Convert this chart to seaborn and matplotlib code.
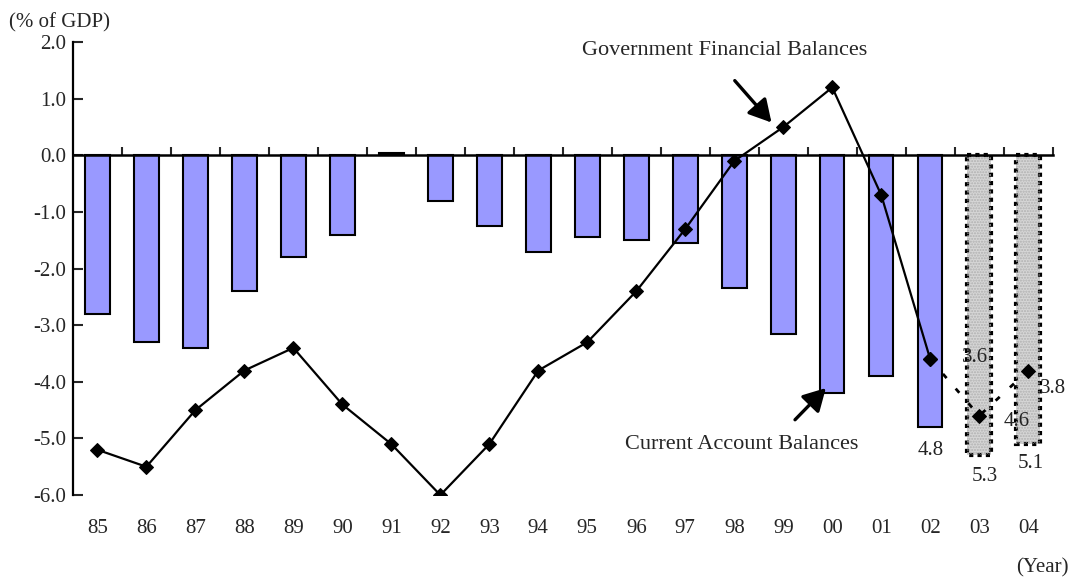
import numpy as np
import pandas as pd
import matplotlib
matplotlib.use("Agg")
import matplotlib.pyplot as plt
import seaborn as sns

# ----------------------------------------
# Datos (% del PIB)
years = ['85', '86', '87', '88', '89', '90', '91', '92', '93', '94',
         '95', '96', '97', '98', '99', '00', '01', '02', '03', '04']
current_account = [-2.8, -3.3, -3.4, -2.4, -1.8, -1.4, 0.05, -0.8, -1.25, -1.7,
                   -1.45, -1.5, -1.55, -2.35, -3.15, -4.2, -3.9, -4.8, -5.3, -5.1]
gov_balance = [-5.2, -5.5, -4.5, -3.8, -3.4, -4.4, -5.1, -6.0, -5.1, -3.8,
               -3.3, -2.4, -1.3, -0.1, 0.5, 1.2, -0.7, -3.6, -4.6, -3.8]
n_forecast = 2  # 03 y 04 son proyecciones

ca_labels = {'02': '4.8', '03': '5.3', '04': '5.1'}
gov_labels = {'02': '3.6', '03': '4.6', '04': '3.8'}

df = pd.DataFrame({'year': years, 'ca': current_account, 'gov': gov_balance})
df['pos'] = np.arange(len(df))

sns.set_theme(style='white')
plt.rcParams['font.family'] = ['Liberation Serif', 'DejaVu Serif']
FS = 15

fig = plt.figure(figsize=(10.72, 5.77), dpi=100)
ax = fig.add_axes([0.068, 0.142, 0.914, 0.785])

# ----------------------------------------
# Barras: balanza por cuenta corriente
sns.barplot(data=df, x='pos', y='ca', color='#9999ff', width=0.5,
            edgecolor='black', linewidth=1.5, saturation=1, ax=ax,
            native_scale=True, zorder=2)
for patch in ax.patches[-n_forecast:]:
    patch.set_facecolor('#d6d6d6')
    patch.set_edgecolor('black')
    patch.set_linestyle((0, (1, 1)))
    patch.set_linewidth(3.0)
    ax.add_patch(plt.Rectangle(patch.get_xy(), patch.get_width(), patch.get_height(),
                               facecolor='none', edgecolor='#b0b0b0', hatch='......',
                               linewidth=0, zorder=2.1))

# ----------------------------------------
# Línea: balance financiero del gobierno
solid = df.iloc[:len(df) - n_forecast]
dotted = df.iloc[len(df) - n_forecast - 1:]
sns.lineplot(data=solid, x='pos', y='gov', color='black', linewidth=1.6,
             marker='D', markersize=7, markeredgecolor='black', ax=ax, zorder=4)
sns.lineplot(data=dotted, x='pos', y='gov', color='black', linewidth=2.0,
             linestyle=(0, (2, 5)), marker='D', markersize=7,
             markeredgecolor='black', ax=ax, zorder=4)

# Etiquetas de valores (desplazamientos en puntos)
ca_offsets = {'02': (0, -17), '03': (4, -15), '04': (2, -14)}
for yr, txt in ca_labels.items():
    row = df[df['year'] == yr].iloc[0]
    ax.annotate(txt, (row['pos'], row['ca']), xytext=ca_offsets[yr],
                textcoords='offset points', ha='center', va='center',
                color='#222222', fontsize=FS)
gov_offsets = {'02': (32, 1), '03': (27, -4), '04': (18, -13)}
for yr, txt in gov_labels.items():
    row = df[df['year'] == yr].iloc[0]
    ax.annotate(txt, (row['pos'], row['gov']), xytext=gov_offsets[yr],
                textcoords='offset points', ha='center', va='center',
                color='#222222', fontsize=FS)

# Anotaciones con flecha
arrow = dict(arrowstyle='-|>,head_length=0.45,head_width=0.25', color='black',
             lw=2.4, mutation_scale=30, shrinkA=0, shrinkB=0)
ax.text(12.8, 1.85, 'Government Financial Balances', ha='center', va='center',
        fontsize=16)
ax.annotate('', xy=(13.76, 0.58), xytext=(13.01, 1.32), arrowprops=arrow)
ax.text(13.15, -5.11, 'Current Account Balances', ha='center', va='center',
        fontsize=16)
ax.annotate('', xy=(14.87, -4.11), xytext=(14.24, -4.67), arrowprops=arrow)

# ----------------------------------------
# Ejes
ax.set_xlim(-0.5, len(df) - 0.5)
ax.set_ylim(-6.0, 2.0)
ax.set_yticks(np.arange(-6, 2.1, 1.0))
ax.set_yticklabels([f'{v:.1f}' for v in np.arange(-6, 2.1, 1.0)])
ax.tick_params(axis='y', direction='in', length=7, width=1.5, pad=5, left=True,
               labelsize=FS)
ax.set_xlabel('')
ax.set_ylabel('')

for side in ['top', 'right']:
    ax.spines[side].set_visible(False)
ax.spines['left'].set_linewidth(1.6)
ax.spines['left'].set_color('black')
ax.spines['bottom'].set_position(('data', 0))
ax.spines['bottom'].set_linewidth(1.8)
ax.spines['bottom'].set_color('black')
ax.spines['bottom'].set_zorder(3)

# Marcas hacia arriba en los límites entre años, sin etiquetas
ax.set_xticks(np.arange(len(df)) + 0.5)
ax.set_xticklabels([])
ax.tick_params(axis='x', direction='in', length=6, width=1.5, bottom=True)

# Etiquetas de años al pie del gráfico
sec = ax.secondary_xaxis('bottom')
sec.set_xticks(df['pos'])
sec.set_xticklabels(years)
sec.tick_params(axis='x', length=0, pad=17, labelsize=FS)
sec.spines['bottom'].set_visible(False)

fig.text(0.008, 0.943, '(% of GDP)', ha='left', va='bottom', fontsize=FS)
fig.text(0.997, 0.0, '(Year)', ha='right', va='bottom', fontsize=FS)

plt.savefig('out.png', dpi=100)
plt.close()
